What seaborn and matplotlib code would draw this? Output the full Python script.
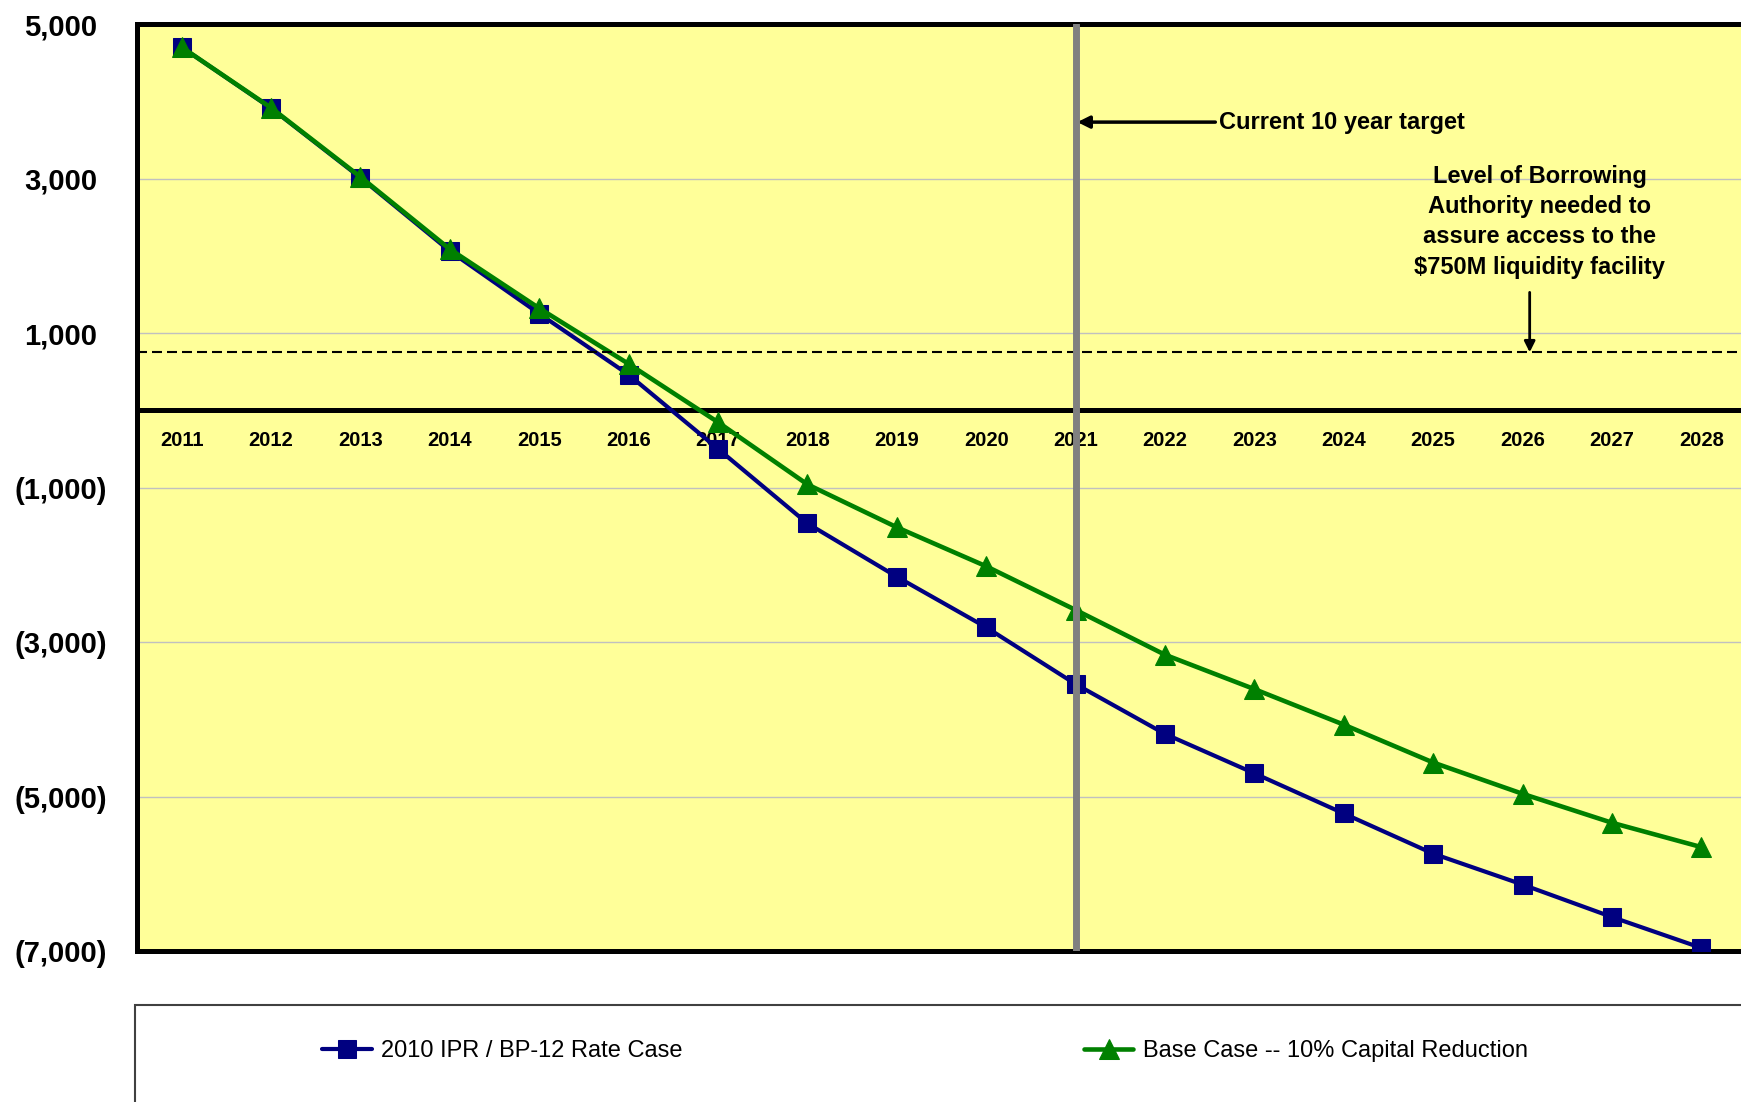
import seaborn as sns
import matplotlib.pyplot as plt
import matplotlib.ticker as mticker
from matplotlib.patches import Rectangle
import pandas as pd

sns.set_style("white")
plt.rcParams['font.family'] = ['Liberation Sans', 'DejaVu Sans']
plt.rcParams['text.color'] = 'black'
plt.rcParams['xtick.color'] = 'black'
plt.rcParams['ytick.color'] = 'black'

years = list(range(2011, 2029))
rate_case = [4700, 3910, 3010, 2060, 1250, 460, -500, -1465, -2155, -2810,
             -3545, -4190, -4700, -5220, -5740, -6140, -6560, -6960]
base_case = [4700, 3915, 3020, 2085, 1320, 600, -155, -960, -1515, -2020,
             -2585, -3165, -3610, -4070, -4560, -4965, -5340, -5655]
series_names = ["2010 IPR / BP-12 Rate Case", "Base Case -- 10% Capital Reduction"]
liquidity_level = 750
target_year = 2021
y_ticks = [5000, 3000, 1000, -1000, -3000, -5000, -7000]

df_rate = pd.DataFrame({"Year": years, "Value": rate_case})
df_base = pd.DataFrame({"Year": years, "Value": base_case})

fig = plt.figure(figsize=(17.41, 11.02), dpi=100)
ax = fig.add_axes([137 / 1741, 1 - 951 / 1102, (1746 - 137) / 1741, (951 - 24) / 1102])
ax.set_facecolor("#FFFF99")

sns.lineplot(data=df_rate, x="Year", y="Value", color="#000080", marker="s",
             markersize=13, mec="#000080", lw=3, label=series_names[0], ax=ax, zorder=3)
sns.lineplot(data=df_base, x="Year", y="Value", color="#008000", marker="^",
             markersize=14, mec="#008000", lw=3.3, label=series_names[1], ax=ax, zorder=3)
handles, labels = ax.get_legend_handles_labels()
if ax.get_legend():
    ax.get_legend().remove()

ax.set_xlim(2010.5, 2028.5)
ax.set_ylim(-7000, 5000)
ax.set_xlabel("")
ax.set_ylabel("")

# y axis
ax.set_yticks(y_ticks)
ax.yaxis.set_major_formatter(mticker.FuncFormatter(
    lambda v, p: f"{v:,.0f}" if v >= 0 else f"({-v:,.0f})"))
ax.tick_params(axis="y", length=6, width=3, direction="out", pad=49,
               labelsize=21)
for lab in ax.get_yticklabels():
    lab.set_fontweight("bold")
    lab.set_ha("center")
ax.grid(axis="y", color="#C0C0C0", lw=1)
ax.set_axisbelow(True)

# category axis on the zero line
ax.spines["bottom"].set_position(("data", 0))
ax.set_xticks(years)
ax.set_xticks([y + 0.5 for y in years[:-1]], minor=True)
ax.tick_params(axis="x", which="major", length=0, pad=15, labelsize=14.5)
ax.tick_params(axis="x", which="minor", length=6, width=3, direction="out")
for lab in ax.get_xticklabels():
    lab.set_fontweight("bold")

for side in ["left", "top", "bottom"]:
    ax.spines[side].set_linewidth(3.6)
    ax.spines[side].set_color("black")
ax.spines["right"].set_visible(False)
ax.axhline(-7000, color="black", lw=3.6, clip_on=False, zorder=2.5)

# reference lines
ax.axhline(liquidity_level, color="black", lw=1.5, dashes=(4.8, 2.4), zorder=4)
ax.axvline(target_year, color="#808080", lw=5, zorder=4)

ax.annotate("Current 10 year target", xy=(target_year + 0.02, 3730),
            xytext=(2022.6, 3730), ha="left", va="center", fontsize=17,
            fontweight="bold",
            arrowprops=dict(arrowstyle="-|>", color="black", lw=2.5,
                            shrinkA=0, shrinkB=0, mutation_scale=18))
ax.text(2026.19, 2440,
        "Level of Borrowing\nAuthority needed to\nassure access to the\n$750M liquidity facility",
        ha="center", va="center", fontsize=17, fontweight="bold", linespacing=1.4)
ax.annotate("", xy=(2026.08, liquidity_level), xytext=(2026.08, 1526),
            arrowprops=dict(arrowstyle="-|>", color="black", lw=2,
                            shrinkA=0, shrinkB=0, mutation_scale=16))

# legend box at the bottom
fig.patches.append(Rectangle((135 / 1741, -0.05), 1.0, 1 - 1005 / 1102 + 0.05,
                             transform=fig.transFigure, facecolor="white",
                             edgecolor="#404040", lw=1.5))
fig.legend(handles, labels, loc="center left", bbox_to_anchor=(322 / 1741, 1 - 1051 / 1102),
           ncol=2, frameon=False, fontsize=17, handlelength=2.1, handletextpad=0.4,
           columnspacing=17.0, borderpad=0, borderaxespad=0)

fig.savefig("out.png", dpi=100)
